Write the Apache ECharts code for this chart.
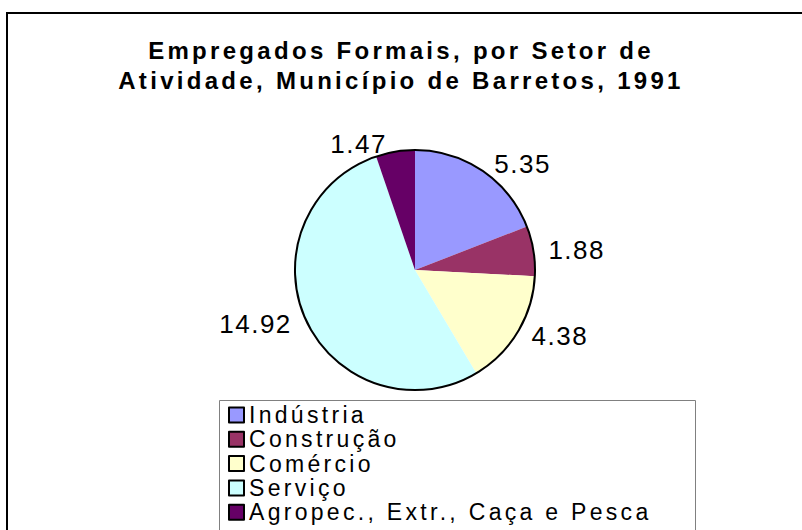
<!DOCTYPE html>
<html>
<head>
<meta charset="utf-8">
<script src="https://cdn.jsdelivr.net/npm/echarts@6/dist/echarts.min.js"></script>
<style>
  html, body { margin: 0; padding: 0; background: #fff; }
  #container { width: 802px; height: 530px; }
  /* the reference text is drawn letter-spaced */
  #container text { letter-spacing: 3.3px; }
  #container text[style*="bold"] { letter-spacing: 3.3px; }
  #container text[style*="26px"] { letter-spacing: 1.5px; }
</style>
</head>
<body>
<div id="container"></div>
<script>
var titleText = 'Empregados Formais, por Setor de\nAtividade, Município de Barretos, 1991';
var sectors = ['Indústria', 'Construção', 'Comércio', 'Serviço', 'Agropec., Extr., Caça e Pesca'];
var employees = [5.35, 1.88, 4.38, 14.92, 1.47];
var sectorColors = ['#9999ff', '#993366', '#ffffcc', '#ccffff', '#660066'];

var dom = document.getElementById('container');
var myChart = echarts.init(dom, null, { renderer: 'svg' });

var pieData = sectors.map(function (name, i) {
    return { name: name, value: employees[i], itemStyle: { color: sectorColors[i] } };
});

option = {
    animation: false,
    textStyle: { fontFamily: 'Liberation Sans' },
    title: {
        text: titleText,
        left: 'center',
        top: 35,
        padding: 0,
        textStyle: {
            fontFamily: 'Liberation Sans',
            fontWeight: 'bold',
            fontSize: 24,
            lineHeight: 30,
            color: '#000'
        }
    },
    graphic: [
        {
            type: 'rect',
            z: 0,
            shape: { x: 7, y: 13, width: 800, height: 530 },
            style: { fill: 'none', stroke: '#000', lineWidth: 2 }
        },
        {
            type: 'rect',
            z: 0,
            shape: { x: 219.5, y: 400.5, width: 476, height: 200 },
            style: { fill: '#fff', stroke: '#808080', lineWidth: 1 }
        }
    ],
    legend: {
        data: sectors,
        orient: 'vertical',
        left: 228,
        top: 403,
        padding: 0,
        itemGap: 0.3,
        itemWidth: 15,
        itemHeight: 15,
        icon: 'rect',
        selectedMode: false,
        itemStyle: { borderColor: '#000', borderWidth: 2 },
        textStyle: {
            fontFamily: 'Liberation Sans',
            fontSize: 23,
            lineHeight: 24,
            color: '#000'
        }
    },
    series: [
        {
            type: 'pie',
            center: [415, 270],
            radius: 120,
            startAngle: 90,
            clockwise: true,
            avoidLabelOverlap: false,
            silent: true,
            itemStyle: { borderWidth: 0 },
            label: {
                show: true,
                position: 'outside',
                formatter: '{c}',
                fontFamily: 'Liberation Sans',
                fontSize: 26,
                color: '#000'
            },
            labelLine: { show: false, length: 8, length2: 2 },
            data: pieData
        },
        {
            type: 'pie',
            center: [415, 270],
            radius: 120,
            silent: true,
            label: { show: false },
            labelLine: { show: false },
            itemStyle: { color: 'none', borderColor: '#000', borderWidth: 2 },
            data: [{ name: '', value: 1 }]
        }
    ]
};
myChart.setOption(option);

window.addEventListener('resize', function () {
    myChart.resize();
});
</script>
</body>
</html>
